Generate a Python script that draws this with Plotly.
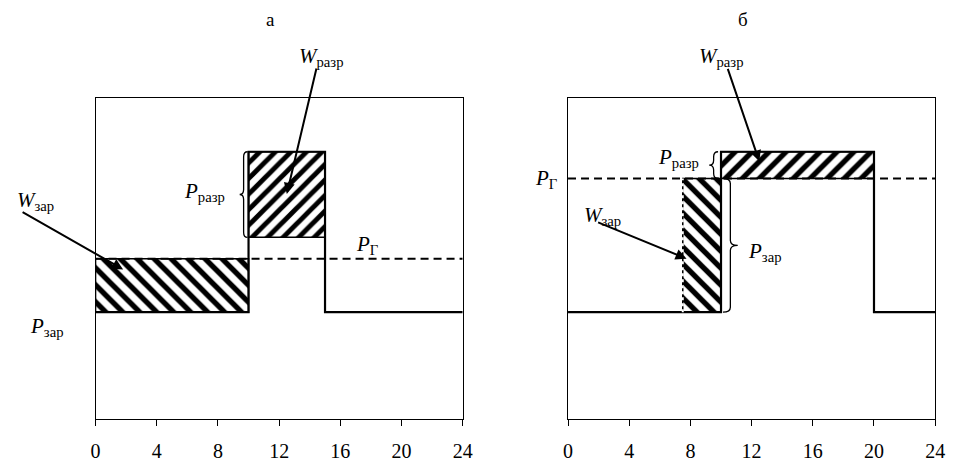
import plotly.graph_objects as go

# ---------------- data ----------------
hour_ticks = [0, 4, 8, 12, 16, 20, 24]
Y_MAX = 120                       # power axis (no tick labels shown)

# panel а: load step curve (hours, power)
a_hours = [0, 10, 15, 24]
a_load = [40, 100, 40, 40]
a_gen = 60                        # P_Г
a_charge = dict(x0=0, x1=10, y0=40, y1=60)
a_discharge = dict(x0=10, x1=15, y0=68, y1=100)

# panel б
b_hours = [0, 10, 20, 24]
b_load = [40, 100, 40, 40]
b_gen = 90
b_charge = dict(x0=7.5, x1=10, y0=40, y1=90)
b_discharge = dict(x0=10, x1=20, y0=90, y1=100)

FONT = "Liberation Serif"
W, H = 957, 462
# plot-area pixel boxes
A_L, A_R = 92, 465
B_L, B_R = 572, 945
TOP, BOT = 100, 426.5

def px2paper(xp, yp):
    return xp / W, 1 - yp / H

fig = go.Figure()

def rect_trace(r, shape, size, xa, ya):
    xs = [r["x0"], r["x1"], r["x1"], r["x0"], r["x0"]]
    ys = [r["y0"], r["y0"], r["y1"], r["y1"], r["y0"]]
    fig.add_trace(go.Scatter(
        x=xs, y=ys, mode="lines", fill="toself", xaxis=xa, yaxis=ya,
        line=dict(color="black", width=1.5),
        fillcolor="white",
        fillpattern=dict(shape=shape, fgcolor="black", bgcolor="white",
                         fgopacity=1, size=size, solidity=0.45),
        hoverinfo="skip", showlegend=False))

def step_trace(h, v, xa, ya):
    fig.add_trace(go.Scatter(
        x=h, y=v, mode="lines", line=dict(color="black", width=2.2, shape="hv"),
        xaxis=xa, yaxis=ya, hoverinfo="skip", showlegend=False))

def gen_trace(g, xa, ya):
    fig.add_trace(go.Scatter(
        x=[0, 24], y=[g, g], mode="lines",
        line=dict(color="black", width=2, dash="8px,5px"),
        xaxis=xa, yaxis=ya, hoverinfo="skip", showlegend=False))

# panel а
rect_trace(a_charge, "\\", 12, "x", "y")
rect_trace(a_discharge, "/", 11, "x", "y")
gen_trace(a_gen, "x", "y")
step_trace(a_hours, a_load, "x", "y")

# panel б
rect_trace(b_charge, "\\", 12, "x2", "y2")
rect_trace(b_discharge, "/", 12, "x2", "y2")
gen_trace(b_gen, "x2", "y2")
step_trace(b_hours, b_load, "x2", "y2")

# dotted left edge of charge rect in б
fig.add_trace(go.Scatter(
    x=[b_charge["x0"], b_charge["x0"]], y=[b_charge["y0"], b_charge["y1"]],
    mode="lines", line=dict(color="white", width=2, dash="dot"),
    xaxis="x2", yaxis="y2", hoverinfo="skip", showlegend=False))

# ---------------- braces ----------------
XS = 24 / (A_R - A_L)        # data per px (x)
YS = Y_MAX / (BOT - TOP)     # data per px (y)

def brace(xtip, yt, yb, wpx, ref):
    w = wpx * XS
    xe = xtip + w
    xm = xtip + w / 2
    ym = (yt + yb) / 2
    r = 5 * YS
    path = (f"M {xe},{yt} Q {xm},{yt} {xm},{yt - r} L {xm},{ym + r} "
            f"Q {xm},{ym} {xtip},{ym} Q {xm},{ym} {xm},{ym - r} "
            f"L {xm},{yb + r} Q {xm},{yb} {xe},{yb}")
    fig.add_shape(type="path", path=path, xref=ref[0], yref=ref[1],
                  line=dict(color="black", width=1.3))

brace(a_discharge["x0"] - 9 * XS, a_discharge["y1"], a_discharge["y0"], 8, ("x", "y"))
brace(a_charge["x0"] - 14 * XS, a_charge["y1"], a_charge["y0"], 12, ("x", "y"))
brace(b_discharge["x0"] - 12 * XS, b_discharge["y1"], b_discharge["y0"], 9, ("x2", "y2"))
brace(b_charge["x1"] + 17 * XS, b_charge["y1"], b_charge["y0"], -15, ("x2", "y2"))

# ---------------- annotations ----------------
def label(text, xp, yp, size=21):
    x, y = px2paper(xp, yp)
    fig.add_annotation(x=x, y=y, xref="paper", yref="paper", text=text,
                       showarrow=False, font=dict(family=FONT, size=size, color="black"),
                       xanchor="center", yanchor="middle")

def arrow(x, y, ax, ay, ref):
    fig.add_annotation(x=x, y=y, xref=ref[0], yref=ref[1], ax=ax, ay=ay,
                       text="", showarrow=True, arrowhead=2, arrowsize=1.1,
                       arrowwidth=2, arrowcolor="black", standoff=0)

Wr = "<i>W</i><sub>разр</sub>"
Wz = "<i>W</i><sub>зар</sub>"
Pr = "<i>P</i><sub>разр</sub>"
Pz = "<i>P</i><sub>зар</sub>"
Pg = "<i>P</i><sub>Г</sub>"

label("а", 270, 20, 19)
label("б", 750, 20, 19)

label(Wr, 322, 58)
label(Pr, 203, 195)
label(Wz, 31, 205)
label(Pz, 43, 333)
label(Pg, 368, 249)

label(Wr, 728, 58)
label(Pr, 684, 161)
label(Pg, 550, 182)
label(Wz, 607, 220)
label(Pz, 772, 256)

arrow(12.5, 84.2, 30, -127, ("x", "y"))
arrow(1.8, 56.0, -102, -58, ("x", "y"))
arrow(12.5, 96.4, -32, -94, ("x2", "y2"))
arrow(7.75, 60.0, -90, -37, ("x2", "y2"))

# ---------------- axes ----------------
xcommon = dict(range=[0, 24], tickvals=hour_ticks, ticktext=[str(t) for t in hour_ticks],
               ticks="outside", ticklen=6, tickcolor="black", tickwidth=1,
               showline=True, linecolor="black", linewidth=1, mirror=True,
               showgrid=False, zeroline=False, fixedrange=True,
               tickfont=dict(family=FONT, size=20, color="black"),
               ticklabelstandoff=8)
ycommon = dict(range=[0, Y_MAX], showticklabels=False, ticks="",
               showline=True, linecolor="black", linewidth=1, mirror=True,
               showgrid=False, zeroline=False, fixedrange=True)

ybot, ytop = 1 - BOT / H, 1 - TOP / H
fig.update_layout(
    autosize=True,
    margin=dict(l=0, r=0, t=0, b=0),
    paper_bgcolor="white", plot_bgcolor="white",
    showlegend=False,
    xaxis=dict(domain=[A_L / W, A_R / W], anchor="y", **xcommon),
    yaxis=dict(domain=[ybot, ytop], anchor="x", **ycommon),
    xaxis2=dict(domain=[B_L / W, B_R / W], anchor="y2", **xcommon),
    yaxis2=dict(domain=[ybot, ytop], anchor="x2", **ycommon),
)

fig.write_html("out.html", config={"displayModeBar": False, "responsive": True},
               default_width="100vw", default_height="100vh",
               post_script="document.body.style.margin='0';"
                           "document.documentElement.style.overflow='hidden';"
                           "document.body.style.overflow='hidden';")
